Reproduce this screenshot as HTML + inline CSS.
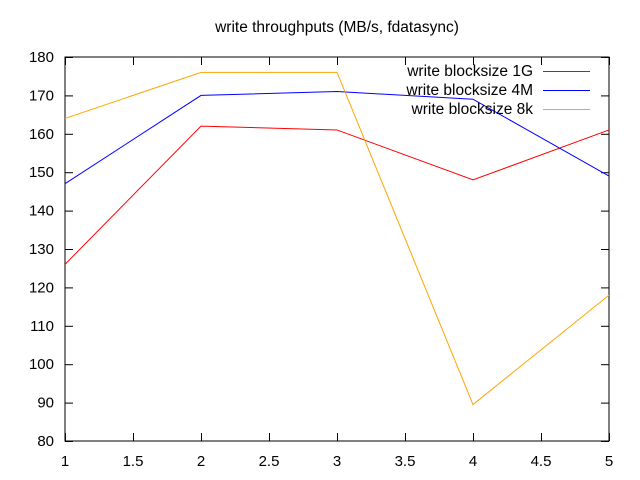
<!DOCTYPE html>
<html><head><meta charset="utf-8"><style>
html,body{margin:0;padding:0;background:#fff;}
svg{display:block;font-family:"Liberation Sans",sans-serif;}
</style></head><body>
<svg id="chart" width="640" height="480">
<text x="337" y="32" font-size="15.5" text-anchor="middle">write throughputs (MB/s, fdatasync)</text>
<rect x="65" y="57" width="544" height="384" fill="none" stroke="#000" stroke-width="1"/>
<g id="axes"></g>
<g id="series"></g>
<g id="legend"></g>
</svg>
<script>
const xValues = [1, 2, 3, 4, 5];
const series1G = [126, 162, 161, 148, 161];
const series4M = [147, 170, 171, 169, 149];
const series8k = [164, 176, 176, 89.5, 118];
const seriesNames = ["write blocksize 1G", "write blocksize 4M", "write blocksize 8k"];
const yTicks = [80, 90, 100, 110, 120, 130, 140, 150, 160, 170, 180];
const xTicks = [1, 1.5, 2, 2.5, 3, 3.5, 4, 4.5, 5];

const L = 65, R = 609, T = 57, B = 441;
function xs(v){ return L + (v - 1) / 4 * (R - L); }
function ys(v){ return B - (v - 80) / 100 * (B - T); }
const NS = "http://www.w3.org/2000/svg";
function mk(tag, attrs){ const e = document.createElementNS(NS, tag); for (const k in attrs) e.setAttribute(k, attrs[k]); return e; }
const axes = document.getElementById('axes');
yTicks.forEach(v => {
  const y = ys(v) + 0.5;
  const t1 = mk('line', {x1: L, x2: L + 8, y1: y, y2: y, stroke: '#000'});
  
  
  axes.appendChild(t1);
  const t2 = mk('line', {x1: R - 8, x2: R, y1: y, y2: y, stroke: '#000'});
  
  
  axes.appendChild(t2);
  const tx = mk('text', {x: L - 11, y: ys(v) + 5, 'font-size': 15, 'text-anchor': 'end'});
  tx.textContent = v;
  
  
  axes.appendChild(tx);
});
xTicks.forEach(v => {
  const x = xs(v) + 0.5;
  const t1 = mk('line', {x1: x, x2: x, y1: B, y2: B - 8, stroke: '#000'});
  
  
  axes.appendChild(t1);
  const t2 = mk('line', {x1: x, x2: x, y1: T, y2: T + 8, stroke: '#000'});
  
  
  axes.appendChild(t2);
  const tx = mk('text', {x: xs(v), y: B + 25, 'font-size': 15, 'text-anchor': 'middle'});
  tx.textContent = v;
  
  
  axes.appendChild(tx);
});
const sg = document.getElementById('series');
const lg = document.getElementById('legend');
const all = [series1G, series4M, series8k];
const colors = ['#ff0000', '#0000ff', '#ffa500'];
all.forEach((s, i) => {
  const pts = s.map((v, j) => xs(xValues[j]) + ',' + ys(v)).join(' ');
  const pl = mk('polyline', {points: pts, fill: 'none', stroke: colors[i], 'stroke-width': 1});
  
  
  sg.appendChild(pl);
  const ly = 71 + i * 19;
  const tx = mk('text', {x: 533, y: ly + 5, 'font-size': 15.5, 'text-anchor': 'end'});
  tx.textContent = seriesNames[i];
  
  
  lg.appendChild(tx);
  const ln = mk('line', {x1: 543, x2: 590, y1: ly + 0.5, y2: ly + 0.5, stroke: colors[i]});
  
  
  lg.appendChild(ln);
});
</script>
</body></html>
